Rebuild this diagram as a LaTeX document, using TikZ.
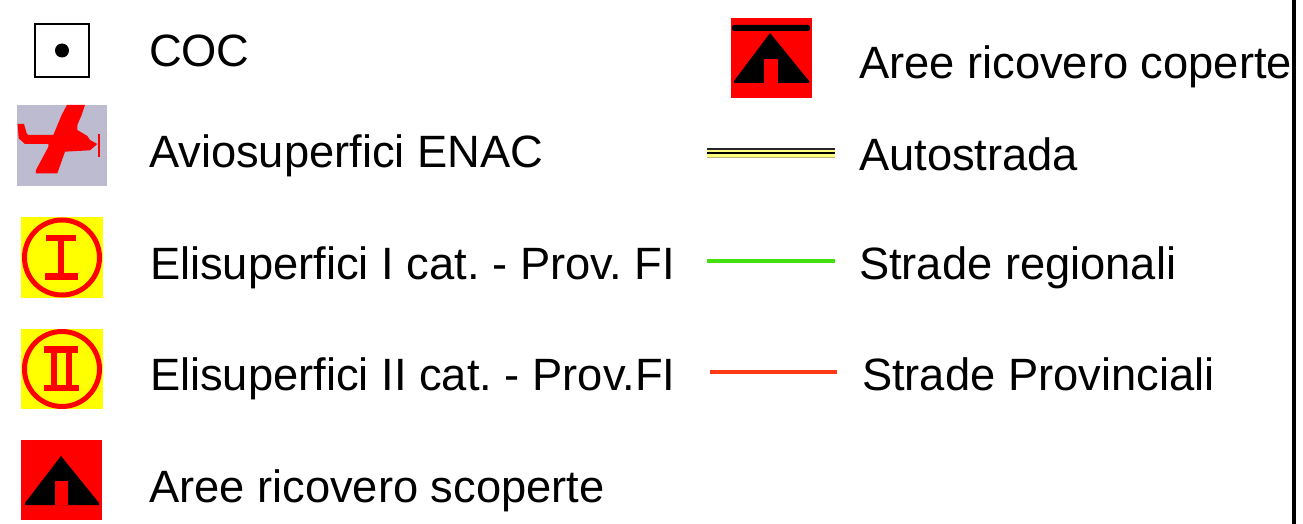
\documentclass[tikz,border=0pt]{standalone}
\usepackage{fontspec}
\setmainfont{Liberation Sans}
\frenchspacing
\definecolor{planebg}{HTML}{BDBBD0}
\definecolor{signred}{HTML}{FF0000}
\definecolor{signyellow}{HTML}{FFFF00}
\definecolor{roadgreen}{HTML}{44E010}
\definecolor{roadred}{HTML}{FF3A14}
\definecolor{roadyellow}{HTML}{FFFF80}
\tikzset{
  legendlabel/.style={anchor=base west,inner sep=0pt,outer sep=0pt,font=\fontsize{45.3}{45.3}\selectfont,text=black},
  iconbox/.style={anchor=north west,inner sep=0pt,outer sep=0pt,draw=none},
  ring/.style={draw=signred,line width=5pt,fill=none},
  redfill/.style={fill=signred,draw=none},
  blackfill/.style={fill=black,draw=none},
}
\begin{document}
\begin{tikzpicture}[x=1pt,y=-1pt]
\useasboundingbox (0,0) rectangle (1303,524);
% COC
\node[iconbox,draw=black,line width=1.4pt,minimum width=54pt,minimum height=53pt] (coc) at (35,24) {};
\fill[black] (coc.center) circle (7);
% plane
\node[iconbox,fill=planebg,minimum width=90pt,minimum height=81pt] (plane) at (17,105) {};
\begin{scope}[x=0.3333pt,y=-0.3333pt]
\fill[signred] (201,315) -- (255,315) -- (245,345) -- (232,375) -- (232,390) -- (262,408) -- (270,420) -- (292,432) -- (270,451) -- (195,455) -- (172,520) -- (108,520) -- (108,510) -- (145,441) -- (145,432) -- (75,432) -- (56,415) -- (53,372) -- (72,372) -- (80,400) -- (85,405) -- (160,405) -- (185,345) -- cycle;
\fill[signred] (294,402) rectangle (300,470);
\end{scope}
% Elisuperfici I
\node[iconbox,fill=signyellow,minimum width=82pt,minimum height=81pt] (eli) at (21,217) {};
\draw[ring] (eli.center) circle (37.5);
\fill[signred] (46,235) rectangle (76,241);
\fill[signred] (57.5,241) rectangle (64,273);
\fill[signred] (45,273) rectangle (78,280);
% Elisuperfici II
\node[iconbox,fill=signyellow,minimum width=82pt,minimum height=80pt] (elii) at (21,329) {};
\draw[ring] (elii.center) circle (37.5);
\fill[signred] (44,346) rectangle (78,353);
\fill[signred] (51,353) rectangle (57,385);
\fill[signred] (66,353) rectangle (72,385);
\fill[signred] (44,385) rectangle (79,391);
% Aree scoperte
\node[iconbox,fill=signred,minimum width=81pt,minimum height=80pt] (scop) at (21,440) {};
\fill[blackfill] (61,456) -- (99,503) -- (99,505) -- (25,505) -- (25,503) -- cycle;
\fill[redfill] (55,481) rectangle (68,505);
% Aree coperte
\node[iconbox,fill=signred,minimum width=81pt,minimum height=80pt] (cop) at (731,18) {};
\fill[blackfill,rounded corners=2pt] (732,25) rectangle (810,31);
\fill[blackfill] (770,33) -- (809,81) -- (809,83) -- (734,83) -- (734,81) -- cycle;
\fill[redfill] (764,59) rectangle (778,83);
% road ends
\coordinate (autoA) at (707,153);
\coordinate (autoB) at (835,153);
\coordinate (regA) at (707,261);
\coordinate (regB) at (835,261);
\coordinate (provA) at (710,372);
\coordinate (provB) at (837,372);
\coordinate (ruleA) at (1294,0);
\coordinate (ruleB) at (1294,524);
\draw[gray!60!yellow,line width=9pt] (autoA) -- (autoB);
\draw[roadyellow,line width=7pt] (autoA) -- (autoB);
\draw[black!85,line width=1.5pt] ([yshift=4.2pt]autoA) -- ([yshift=4.2pt]autoB);
\draw[black,line width=2pt] (autoA) -- (autoB);
\draw[roadgreen,line width=4pt] (regA) -- (regB);
\draw[roadred,line width=4pt] (provA) -- (provB);
\draw[black,line width=4pt] (ruleA) -- (ruleB);
% labels
\node[legendlabel] (t1) at (149,66.5) {COC};
\node[legendlabel] (t2) at (149,167) {Aviosuperfici ENAC};
\node[legendlabel] (t3) at (150,279.5) {Elisuperfici I cat. - Prov. FI};
\node[legendlabel] (t4) at (150,390) {Elisuperfici II cat. - Prov.FI};
\node[legendlabel] (t5) at (149,502) {Aree ricovero scoperte};
\node[legendlabel] (t6) at (859,79) {Aree ricovero coperte};
\node[legendlabel] (t7) at (859,170) {Autostrada};
\node[legendlabel] (t8) at (859,279.5) {Strade regionali};
\node[legendlabel] (t9) at (862,390) {Strade Provinciali};
\end{tikzpicture}
\end{document}
